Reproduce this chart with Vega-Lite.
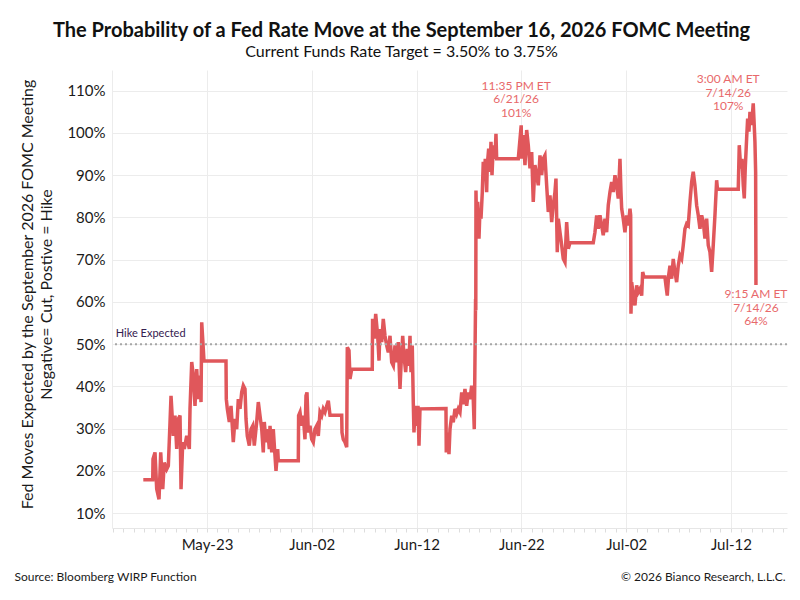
{
  "$schema": "https://vega.github.io/schema/vega-lite/v6.json",
  "width": 675,
  "height": 458,
  "autosize": "none",
  "padding": {"left": 112, "top": 70, "right": 13, "bottom": 72},
  "background": "white",
  "title": {
    "text": "The Probability of a Fed Rate Move at the September 16, 2026 FOMC Meeting",
    "subtitle": "Current Funds Rate Target = 3.50% to 3.75%",
    "anchor": "middle",
    "dx": -48,
    "offset": 10,
    "font": "Lato",
    "fontSize": 20,
    "fontWeight": "bold",
    "color": "#111111",
    "subtitleFont": "Lato",
    "subtitleFontSize": 16,
    "subtitleColor": "#111111",
    "subtitlePadding": 3
  },
  "datasets": {
    "series": [
      {"t": "2026-05-16 22:06", "v": 17.9}, {"t": "2026-05-17 19:42", "v": 17.9}, {"t": "2026-05-17 20:20", "v": 22.8},
      {"t": "2026-05-18 00:54", "v": 24.4}, {"t": "2026-05-18 04:48", "v": 15.7}, {"t": "2026-05-18 10:06", "v": 13.3},
      {"t": "2026-05-18 14:00", "v": 24.4}, {"t": "2026-05-18 18:36", "v": 15.7}, {"t": "2026-05-18 22:12", "v": 22.0},
      {"t": "2026-05-19 03:42", "v": 20.4}, {"t": "2026-05-19 07:24", "v": 21.2}, {"t": "2026-05-19 11:18", "v": 31.5},
      {"t": "2026-05-19 13:36", "v": 37.8}, {"t": "2026-05-19 18:48", "v": 28.3}, {"t": "2026-05-19 22:42", "v": 33.1},
      {"t": "2026-05-20 02:36", "v": 25.2}, {"t": "2026-05-20 06:18", "v": 32.3}, {"t": "2026-05-20 10:12", "v": 33.1},
      {"t": "2026-05-20 12:30", "v": 15.7}, {"t": "2026-05-20 16:24", "v": 26.8}, {"t": "2026-05-20 20:00", "v": 25.2},
      {"t": "2026-05-21 01:30", "v": 28.3}, {"t": "2026-05-21 07:30", "v": 25.2}, {"t": "2026-05-21 09:06", "v": 34.7},
      {"t": "2026-05-21 13:00", "v": 45.8}, {"t": "2026-05-21 16:36", "v": 42.6}, {"t": "2026-05-21 20:30", "v": 35.4},
      {"t": "2026-05-22 00:24", "v": 44.1}, {"t": "2026-05-22 04:06", "v": 37.0}, {"t": "2026-05-22 08:00", "v": 42.6},
      {"t": "2026-05-22 10:18", "v": 36.3}, {"t": "2026-05-22 11:54", "v": 55.2}, {"t": "2026-05-22 15:30", "v": 48.9},
      {"t": "2026-05-22 17:06", "v": 46.0}, {"t": "2026-05-24 19:30", "v": 46.0}, {"t": "2026-05-24 20:12", "v": 37.0},
      {"t": "2026-05-24 22:30", "v": 34.7}, {"t": "2026-05-25 03:06", "v": 31.6}, {"t": "2026-05-25 07:00", "v": 35.4},
      {"t": "2026-05-25 12:12", "v": 26.8}, {"t": "2026-05-25 16:06", "v": 32.3}, {"t": "2026-05-25 20:00", "v": 29.9},
      {"t": "2026-05-25 23:42", "v": 37.0}, {"t": "2026-05-26 03:36", "v": 34.7}, {"t": "2026-05-26 07:30", "v": 38.7},
      {"t": "2026-05-26 11:06", "v": 40.2}, {"t": "2026-05-26 15:00", "v": 39.4}, {"t": "2026-05-26 17:18", "v": 32.3},
      {"t": "2026-05-26 20:18", "v": 28.3}, {"t": "2026-05-27 00:54", "v": 26.0}, {"t": "2026-05-27 04:48", "v": 29.9},
      {"t": "2026-05-27 08:42", "v": 30.7}, {"t": "2026-05-27 12:18", "v": 26.0}, {"t": "2026-05-27 17:48", "v": 31.6},
      {"t": "2026-05-27 21:30", "v": 36.3}, {"t": "2026-05-28 01:24", "v": 33.1}, {"t": "2026-05-28 05:18", "v": 29.9},
      {"t": "2026-05-28 08:54", "v": 24.4}, {"t": "2026-05-28 11:12", "v": 31.6}, {"t": "2026-05-28 15:06", "v": 26.8},
      {"t": "2026-05-28 19:00", "v": 29.9}, {"t": "2026-05-28 22:42", "v": 25.2}, {"t": "2026-05-29 00:18", "v": 30.7},
      {"t": "2026-05-29 04:12", "v": 24.4}, {"t": "2026-05-29 07:48", "v": 29.9}, {"t": "2026-05-29 11:42", "v": 23.6},
      {"t": "2026-05-29 14:00", "v": 20.0}, {"t": "2026-05-29 17:54", "v": 25.2}, {"t": "2026-05-29 19:18", "v": 22.4},
      {"t": "2026-05-31 17:06", "v": 22.4}, {"t": "2026-05-31 17:48", "v": 33.1}, {"t": "2026-05-31 21:00", "v": 33.9},
      {"t": "2026-06-01 00:54", "v": 30.7}, {"t": "2026-06-01 04:30", "v": 33.1}, {"t": "2026-06-01 08:24", "v": 27.5},
      {"t": "2026-06-01 10:42", "v": 37.8}, {"t": "2026-06-01 13:00", "v": 38.6}, {"t": "2026-06-01 16:00", "v": 29.1},
      {"t": "2026-06-01 19:54", "v": 30.7}, {"t": "2026-06-01 23:48", "v": 27.5}, {"t": "2026-06-02 03:24", "v": 26.8},
      {"t": "2026-06-02 07:18", "v": 29.9}, {"t": "2026-06-02 11:12", "v": 30.7}, {"t": "2026-06-02 14:54", "v": 28.3},
      {"t": "2026-06-02 18:48", "v": 33.9}, {"t": "2026-06-02 22:42", "v": 33.1}, {"t": "2026-06-03 02:18", "v": 34.7},
      {"t": "2026-06-03 06:12", "v": 33.9}, {"t": "2026-06-03 10:06", "v": 35.4}, {"t": "2026-06-03 13:48", "v": 36.6},
      {"t": "2026-06-03 17:42", "v": 33.2}, {"t": "2026-06-04 20:30", "v": 33.2}, {"t": "2026-06-04 21:12", "v": 29.1},
      {"t": "2026-06-05 00:06", "v": 27.5}, {"t": "2026-06-05 04:00", "v": 26.8}, {"t": "2026-06-05 07:54", "v": 25.6},
      {"t": "2026-06-05 09:18", "v": 49.3}, {"t": "2026-06-05 13:12", "v": 48.5}, {"t": "2026-06-05 15:30", "v": 41.8},
      {"t": "2026-06-05 19:24", "v": 44.1}, {"t": "2026-06-07 18:30", "v": 44.1}, {"t": "2026-06-07 19:12", "v": 56.0},
      {"t": "2026-06-07 23:06", "v": 51.3}, {"t": "2026-06-08 02:18", "v": 57.2}, {"t": "2026-06-08 06:54", "v": 52.0},
      {"t": "2026-06-08 09:54", "v": 46.1}, {"t": "2026-06-08 12:12", "v": 53.6}, {"t": "2026-06-08 16:06", "v": 50.5},
      {"t": "2026-06-08 19:42", "v": 56.0}, {"t": "2026-06-08 23:36", "v": 52.0}, {"t": "2026-06-09 03:30", "v": 49.7},
      {"t": "2026-06-09 07:12", "v": 48.1}, {"t": "2026-06-09 11:06", "v": 52.0}, {"t": "2026-06-09 15:00", "v": 45.7},
      {"t": "2026-06-09 18:42", "v": 44.9}, {"t": "2026-06-09 22:30", "v": 49.7}, {"t": "2026-06-10 02:24", "v": 45.7},
      {"t": "2026-06-10 06:06", "v": 50.5}, {"t": "2026-06-10 10:00", "v": 39.4}, {"t": "2026-06-10 12:18", "v": 44.9},
      {"t": "2026-06-10 16:12", "v": 52.0}, {"t": "2026-06-10 19:06", "v": 47.3}, {"t": "2026-06-10 23:00", "v": 43.4},
      {"t": "2026-06-11 02:42", "v": 48.9}, {"t": "2026-06-11 05:54", "v": 44.9}, {"t": "2026-06-11 08:54", "v": 52.0},
      {"t": "2026-06-11 11:12", "v": 43.4}, {"t": "2026-06-11 14:06", "v": 49.7}, {"t": "2026-06-11 16:24", "v": 36.3},
      {"t": "2026-06-11 18:00", "v": 29.1}, {"t": "2026-06-11 21:00", "v": 35.4}, {"t": "2026-06-12 00:12", "v": 30.7},
      {"t": "2026-06-12 03:12", "v": 35.4}, {"t": "2026-06-12 05:30", "v": 26.0}, {"t": "2026-06-12 07:48", "v": 34.7},
      {"t": "2026-06-14 19:18", "v": 34.8}, {"t": "2026-06-14 20:00", "v": 24.4}, {"t": "2026-06-14 23:12", "v": 29.1},
      {"t": "2026-06-15 02:12", "v": 24.0}, {"t": "2026-06-15 04:30", "v": 29.9}, {"t": "2026-06-15 08:24", "v": 33.1},
      {"t": "2026-06-15 12:00", "v": 31.5}, {"t": "2026-06-15 15:54", "v": 34.7}, {"t": "2026-06-15 19:48", "v": 33.5},
      {"t": "2026-06-15 23:30", "v": 34.7}, {"t": "2026-06-16 03:24", "v": 33.9}, {"t": "2026-06-16 07:18", "v": 38.6},
      {"t": "2026-06-16 10:54", "v": 35.8}, {"t": "2026-06-16 14:48", "v": 39.4}, {"t": "2026-06-16 18:42", "v": 35.4},
      {"t": "2026-06-16 22:24", "v": 38.6}, {"t": "2026-06-17 02:18", "v": 37.0}, {"t": "2026-06-17 06:12", "v": 40.2},
      {"t": "2026-06-17 09:48", "v": 37.0}, {"t": "2026-06-17 12:06", "v": 29.9}, {"t": "2026-06-17 15:06", "v": 60.7},
      {"t": "2026-06-17 15:36", "v": 58.0}, {"t": "2026-06-17 16:00", "v": 86.4}, {"t": "2026-06-17 17:42", "v": 76.5},
      {"t": "2026-06-17 20:00", "v": 83.7}, {"t": "2026-06-17 22:54", "v": 75.0}, {"t": "2026-06-18 01:12", "v": 82.1},
      {"t": "2026-06-18 03:30", "v": 79.7}, {"t": "2026-06-18 06:30", "v": 86.0}, {"t": "2026-06-18 08:42", "v": 93.2},
      {"t": "2026-06-18 11:00", "v": 89.2}, {"t": "2026-06-18 13:18", "v": 93.9}, {"t": "2026-06-18 16:30", "v": 86.0},
      {"t": "2026-06-18 17:54", "v": 92.4}, {"t": "2026-06-18 21:06", "v": 96.3}, {"t": "2026-06-19 00:06", "v": 90.8},
      {"t": "2026-06-19 02:24", "v": 97.9}, {"t": "2026-06-19 04:42", "v": 90.0}, {"t": "2026-06-19 07:36", "v": 97.1},
      {"t": "2026-06-19 11:30", "v": 93.9}, {"t": "2026-06-19 13:48", "v": 99.8}, {"t": "2026-06-19 15:24", "v": 93.9},
      {"t": "2026-06-21 16:54", "v": 93.9}, {"t": "2026-06-21 23:35", "v": 101.8}, {"t": "2026-06-22 00:42", "v": 93.9},
      {"t": "2026-06-22 04:18", "v": 99.5}, {"t": "2026-06-22 08:12", "v": 92.4}, {"t": "2026-06-22 12:06", "v": 100.7},
      {"t": "2026-06-22 15:48", "v": 97.1}, {"t": "2026-06-22 19:42", "v": 91.6}, {"t": "2026-06-22 23:36", "v": 95.5},
      {"t": "2026-06-23 03:12", "v": 83.7}, {"t": "2026-06-23 07:06", "v": 92.4}, {"t": "2026-06-23 11:00", "v": 90.0},
      {"t": "2026-06-23 14:42", "v": 87.6}, {"t": "2026-06-23 18:36", "v": 94.7}, {"t": "2026-06-23 22:30", "v": 90.0},
      {"t": "2026-06-24 02:06", "v": 93.9}, {"t": "2026-06-24 06:00", "v": 94.7}, {"t": "2026-06-24 09:54", "v": 87.6},
      {"t": "2026-06-24 13:36", "v": 81.3}, {"t": "2026-06-24 17:30", "v": 85.2}, {"t": "2026-06-24 21:24", "v": 78.9},
      {"t": "2026-06-25 01:00", "v": 82.9}, {"t": "2026-06-25 04:54", "v": 86.0}, {"t": "2026-06-25 07:12", "v": 89.2},
      {"t": "2026-06-25 10:12", "v": 71.8}, {"t": "2026-06-25 12:30", "v": 79.7}, {"t": "2026-06-25 16:24", "v": 76.5},
      {"t": "2026-06-25 20:18", "v": 73.4}, {"t": "2026-06-25 23:54", "v": 70.2}, {"t": "2026-06-26 03:48", "v": 69.4},
      {"t": "2026-06-26 07:42", "v": 78.9}, {"t": "2026-06-26 11:24", "v": 72.6}, {"t": "2026-06-26 15:18", "v": 74.0},
      {"t": "2026-06-28 20:36", "v": 74.0}, {"t": "2026-06-29 00:30", "v": 76.5}, {"t": "2026-06-29 04:24", "v": 80.5},
      {"t": "2026-06-29 08:06", "v": 77.3}, {"t": "2026-06-29 12:00", "v": 80.5}, {"t": "2026-06-29 15:54", "v": 78.1},
      {"t": "2026-06-29 19:30", "v": 75.8}, {"t": "2026-06-29 23:24", "v": 79.7}, {"t": "2026-06-30 03:18", "v": 76.5},
      {"t": "2026-06-30 07:00", "v": 82.9}, {"t": "2026-06-30 10:54", "v": 86.0}, {"t": "2026-06-30 14:48", "v": 88.4},
      {"t": "2026-06-30 18:24", "v": 86.0}, {"t": "2026-06-30 22:18", "v": 90.0}, {"t": "2026-07-01 02:12", "v": 87.6},
      {"t": "2026-07-01 05:54", "v": 84.5}, {"t": "2026-07-01 09:48", "v": 93.9}, {"t": "2026-07-01 12:06", "v": 86.0},
      {"t": "2026-07-01 13:42", "v": 82.1}, {"t": "2026-07-01 17:18", "v": 79.7}, {"t": "2026-07-01 21:12", "v": 76.5},
      {"t": "2026-07-02 01:06", "v": 80.5}, {"t": "2026-07-02 04:48", "v": 78.1}, {"t": "2026-07-02 08:42", "v": 82.1},
      {"t": "2026-07-02 10:18", "v": 80.5}, {"t": "2026-07-02 11:00", "v": 57.2}, {"t": "2026-07-02 12:36", "v": 64.7},
      {"t": "2026-07-02 16:18", "v": 61.5}, {"t": "2026-07-02 20:06", "v": 59.2}, {"t": "2026-07-03 00:00", "v": 63.9},
      {"t": "2026-07-03 03:42", "v": 62.3}, {"t": "2026-07-03 07:36", "v": 63.1}, {"t": "2026-07-03 11:30", "v": 61.5},
      {"t": "2026-07-03 13:48", "v": 67.1}, {"t": "2026-07-03 16:42", "v": 65.9}, {"t": "2026-07-05 16:48", "v": 65.9},
      {"t": "2026-07-05 19:06", "v": 63.9}, {"t": "2026-07-05 22:06", "v": 61.5}, {"t": "2026-07-06 01:18", "v": 66.3},
      {"t": "2026-07-06 04:18", "v": 68.6}, {"t": "2026-07-06 08:12", "v": 65.5}, {"t": "2026-07-06 11:48", "v": 70.2},
      {"t": "2026-07-06 15:42", "v": 67.1}, {"t": "2026-07-06 19:36", "v": 64.7}, {"t": "2026-07-06 23:18", "v": 68.6},
      {"t": "2026-07-07 03:12", "v": 71.0}, {"t": "2026-07-07 07:06", "v": 70.2}, {"t": "2026-07-07 10:42", "v": 73.4},
      {"t": "2026-07-07 14:36", "v": 77.3}, {"t": "2026-07-07 18:30", "v": 78.5}, {"t": "2026-07-07 22:12", "v": 78.1},
      {"t": "2026-07-08 02:06", "v": 83.7}, {"t": "2026-07-08 06:00", "v": 88.4}, {"t": "2026-07-08 09:36", "v": 90.8},
      {"t": "2026-07-08 13:30", "v": 87.6}, {"t": "2026-07-08 17:24", "v": 82.9}, {"t": "2026-07-08 21:06", "v": 80.5},
      {"t": "2026-07-09 01:00", "v": 77.3}, {"t": "2026-07-09 04:54", "v": 80.5}, {"t": "2026-07-09 08:30", "v": 79.0},
      {"t": "2026-07-09 12:24", "v": 75.0}, {"t": "2026-07-09 16:18", "v": 79.7}, {"t": "2026-07-09 20:00", "v": 73.4},
      {"t": "2026-07-09 23:54", "v": 71.8}, {"t": "2026-07-10 03:48", "v": 67.1}, {"t": "2026-07-10 07:24", "v": 73.4},
      {"t": "2026-07-10 11:18", "v": 80.5}, {"t": "2026-07-10 15:12", "v": 88.8}, {"t": "2026-07-10 17:06", "v": 86.7},
      {"t": "2026-07-12 16:42", "v": 86.7}, {"t": "2026-07-12 19:00", "v": 97.1}, {"t": "2026-07-12 22:12", "v": 91.6},
      {"t": "2026-07-13 01:12", "v": 93.9}, {"t": "2026-07-13 04:12", "v": 87.6}, {"t": "2026-07-13 06:30", "v": 84.5},
      {"t": "2026-07-13 08:42", "v": 91.6}, {"t": "2026-07-13 11:54", "v": 98.7}, {"t": "2026-07-13 14:12", "v": 103.4},
      {"t": "2026-07-13 17:12", "v": 100.3}, {"t": "2026-07-13 19:30", "v": 105.0}, {"t": "2026-07-13 23:24", "v": 101.9},
      {"t": "2026-07-14 03:00", "v": 107.0}, {"t": "2026-07-14 04:36", "v": 103.4}, {"t": "2026-07-14 06:54", "v": 97.9},
      {"t": "2026-07-14 08:30", "v": 90.8}, {"t": "2026-07-14 09:15", "v": 64.0}
    ]
  },
  "encoding": {
    "y": {
      "field": "v",
      "type": "quantitative",
      "scale": {"domain": [6.5, 114.9], "nice": false, "zero": false},
      "axis": {
        "values": [10, 20, 30, 40, 50, 60, 70, 80, 90, 100, 110],
        "labelExpr": "datum.value + '%'",
        "labelFont": "Lato",
        "labelFontSize": 15,
        "labelColor": "#1a1a1a",
        "labelPadding": 7,
        "ticks": false,
        "domainColor": "#ececec",
        "gridColor": "#ececec",
        "title": ["Fed Moves Expected by the September 2026 FOMC Meeting", "Negative= Cut, Postive = Hike"],
        "titleFont": "Lato",
        "titleFontSize": 16,
        "titleFontWeight": "normal",
        "titleColor": "#1a1a1a",
        "titleLineHeight": 19,
        "titleAngle": -90,
        "titleAlign": "center",
        "titleBaseline": "middle",
        "titleX": -85,
        "titleY": 224
      }
    }
  },
  "layer": [
    {
      "data": {"name": "series"},
      "mark": {"type": "line", "color": "#e0575b", "strokeWidth": 3.5, "interpolate": "linear"},
      "encoding": {
        "x": {
          "field": "t",
          "type": "temporal",
          "scale": {
            "domain": [
              {"year": 2026, "month": "May", "date": 13, "hours": 22, "minutes": 25},
              {"year": 2026, "month": "July", "date": 17, "hours": 8, "minutes": 20}
            ],
            "nice": false
          },
          "axis": {
            "tickCount": {"interval": "day", "step": 1},
            "labelExpr": "indexof(['05-23','06-02','06-12','06-22','07-02','07-12'], timeFormat(datum.value, '%m-%d')) >= 0 ? timeFormat(datum.value, '%b-%d') : ''",
            "labelOverlap": false,
            "labelFlush": false,
            "labelFont": "Lato",
            "labelFontSize": 15,
            "labelColor": "#1a1a1a",
            "labelPadding": 5,
            "tickSize": 4,
            "tickColor": "#dddddd",
            "domainColor": "#e6e6e6",
            "gridColor": "#ececec",
            "gridOpacity": {
              "condition": {
                "test": "indexof(['05-23','06-02','06-12','06-22','07-02','07-12'], timeFormat(datum.value, '%m-%d')) >= 0",
                "value": 1
              },
              "value": 0
            },
            "title": "Source: Bloomberg WIRP Function",
            "titleFont": "Lato",
            "titleFontSize": 12,
            "titleFontWeight": "normal",
            "titleColor": "#1a1a1a",
            "titleAlign": "left",
            "titleBaseline": "middle",
            "titleX": -98,
            "titleY": 48
          }
        }
      }
    },
    {
      "data": {"values": [{"v": 50}]},
      "mark": {"type": "rule", "color": "#a6a6a6", "strokeWidth": 2, "strokeDash": [2, 3]},
      "encoding": {}
    },
    {
      "data": {"values": [{"v": 50, "label": "Hike Expected"}]},
      "mark": {"type": "text", "align": "left", "baseline": "middle", "dy": -10, "font": "Lato", "fontSize": 11, "color": "#35204f"},
      "encoding": {
        "x": {
          "datum": {"year": 2026, "month": "May", "date": 14, "hours": 7},
          "type": "temporal",
          "scale": {
            "domain": [
              {"year": 2026, "month": "May", "date": 13, "hours": 22, "minutes": 25},
              {"year": 2026, "month": "July", "date": 17, "hours": 8, "minutes": 20}
            ],
            "nice": false
          },
          "axis": null
        },
        "text": {"field": "label"}
      }
    },
    {
      "data": {"values": [{"t": "2026-06-21 23:35", "v": 101, "label": "11:35 PM ET\n6/21/26\n101%"}]},
      "mark": {"type": "text", "align": "center", "baseline": "bottom", "dx": -5, "dy": -36, "lineBreak": "\n", "lineHeight": 13.5, "font": "Lato", "fontSize": 12, "color": "#e8696b"},
      "encoding": {
        "x": {
          "field": "t",
          "type": "temporal",
          "scale": {
            "domain": [
              {"year": 2026, "month": "May", "date": 13, "hours": 22, "minutes": 25},
              {"year": 2026, "month": "July", "date": 17, "hours": 8, "minutes": 20}
            ],
            "nice": false
          },
          "axis": null
        },
        "text": {"field": "label"}
      }
    },
    {
      "data": {"values": [{"t": "2026-07-14 03:00", "v": 107, "label": "3:00 AM ET\n7/14/26\n107%"}]},
      "mark": {"type": "text", "align": "center", "baseline": "bottom", "dx": -25, "dy": -17, "lineBreak": "\n", "lineHeight": 13.5, "font": "Lato", "fontSize": 12, "color": "#e8696b"},
      "encoding": {
        "x": {
          "field": "t",
          "type": "temporal",
          "scale": {
            "domain": [
              {"year": 2026, "month": "May", "date": 13, "hours": 22, "minutes": 25},
              {"year": 2026, "month": "July", "date": 17, "hours": 8, "minutes": 20}
            ],
            "nice": false
          },
          "axis": null
        },
        "text": {"field": "label"}
      }
    },
    {
      "data": {"values": [{"t": "2026-07-14 09:15", "v": 64, "label": "9:15 AM ET\n7/14/26\n64%"}]},
      "mark": {"type": "text", "align": "center", "baseline": "top", "dx": 0, "dy": 4, "lineBreak": "\n", "lineHeight": 13.5, "font": "Lato", "fontSize": 12, "color": "#e8696b"},
      "encoding": {
        "x": {
          "field": "t",
          "type": "temporal",
          "scale": {
            "domain": [
              {"year": 2026, "month": "May", "date": 13, "hours": 22, "minutes": 25},
              {"year": 2026, "month": "July", "date": 17, "hours": 8, "minutes": 20}
            ],
            "nice": false
          },
          "axis": {
            "orient": "bottom",
            "labels": false,
            "ticks": false,
            "domain": false,
            "grid": false,
            "title": "© 2026 Bianco Research, L.L.C.",
            "titleFont": "Lato",
            "titleFontSize": 12,
            "titleFontWeight": "normal",
            "titleColor": "#1a1a1a",
            "titleAlign": "right",
            "titleBaseline": "middle",
            "titleX": 673,
            "titleY": 48
          }
        },
        "text": {"field": "label"}
      }
    }
  ],
  "resolve": {"axis": {"x": "independent"}},
  "config": {
    "font": "Lato",
    "view": {"stroke": null}
  }
}
